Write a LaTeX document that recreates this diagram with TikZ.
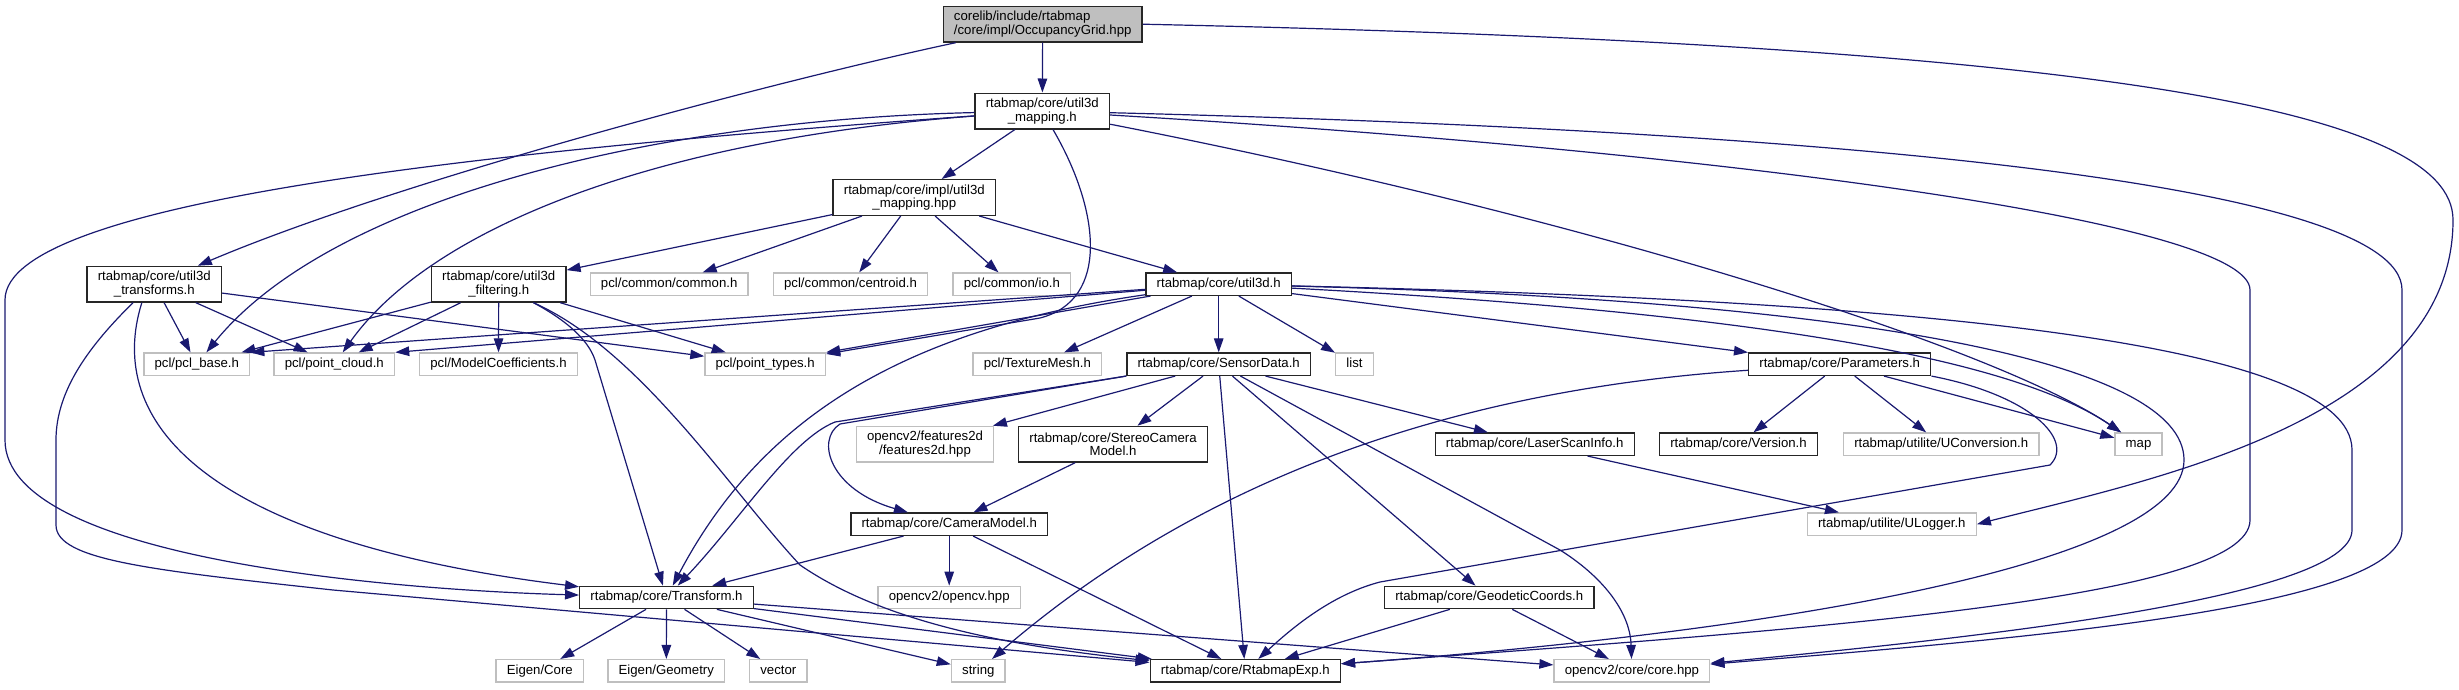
\documentclass[tikz,border=0pt]{standalone}
\usepackage{fontspec}
\setmainfont{Liberation Sans}
\usetikzlibrary{arrows.meta}
\definecolor{dxblue}{HTML}{191970}
\definecolor{dxgrey}{HTML}{BFBFBF}
\tikzset{
  every picture/.style={font=\fontsize{13.2}{13.4}\selectfont},
  file/.style={draw=#1, fill=white, line width=1.4pt, inner xsep=10.7pt, inner ysep=3pt, minimum height=22.3pt, text height=9.6pt, text depth=2.8pt, align=center},
  file/.default=black!85,
  ext/.style={file=dxgrey},
  root/.style={file, fill=dxgrey, align=left},
  tall/.style={minimum height=35.6pt, text height=, text depth=},
  inc/.style={-{Triangle[length=14pt, width=9.5pt]}, draw=dxblue, line width=1.2pt},
}

\begin{document}
\begin{tikzpicture}[x=1pt, y=-1pt]
  \useasboundingbox (0,0) rectangle (2459,689);
  \node[root, tall] (occ) at (1042.7,24.2) {corelib/include/rtabmap\\/core/impl/OccupancyGrid.hpp};
  \node[file, tall] (map3d) at (1042.3,111) {rtabmap/core/util3d\\\_mapping.h};
  \node[file, tall] (map3dhpp) at (914.3,197.5) {rtabmap/core/impl/util3d\\\_mapping.hpp};
  \node[file, tall] (trans) at (154.3,284.2) {rtabmap/core/util3d\\\_transforms.h};
  \node[file, tall] (filt) at (498.7,284.2) {rtabmap/core/util3d\\\_filtering.h};
  \node[ext] (common) at (669.2,284.2) {pcl/common/common.h};
  \node[ext] (centroid) at (850.5,284.2) {pcl/common/centroid.h};
  \node[ext] (io) at (1011.8,284.2) {pcl/common/io.h};
  \node[file] (u3d) at (1218.7,284.2) {rtabmap/core/util3d.h};
  \node[ext] (pclbase) at (196.8,364.2) {pcl/pcl\_base.h};
  \node[ext] (pcloud) at (334.3,364.2) {pcl/point\_cloud.h};
  \node[ext] (modelcoef) at (498.5,364.2) {pcl/ModelCoefficients.h};
  \node[ext] (ptypes) at (765.2,364.2) {pcl/point\_types.h};
  \node[ext] (texmesh) at (1037.3,364.2) {pcl/TextureMesh.h};
  \node[file] (sensor) at (1218.7,364.2) {rtabmap/core/SensorData.h};
  \node[ext] (list) at (1354.5,364.2) {list};
  \node[file] (params) at (1839.7,364.2) {rtabmap/core/Parameters.h};
  \node[ext, tall] (feat2d) at (925,444.2) {opencv2/features2d\\/features2d.hpp};
  \node[file, tall] (stereo) at (1113,444.2) {rtabmap/core/StereoCamera\\Model.h};
  \node[file] (laser) at (1534.7,444.2) {rtabmap/core/LaserScanInfo.h};
  \node[file] (version) at (1738.5,444.2) {rtabmap/core/Version.h};
  \node[ext] (uconv) at (1941.2,444.2) {rtabmap/utilite/UConversion.h};
  \node[ext] (map) at (2138.5,444.2) {map};
  \node[file] (cammodel) at (949.2,524.2) {rtabmap/core/CameraModel.h};
  \node[ext] (ulogger) at (1891.8,524.2) {rtabmap/utilite/ULogger.h};
  \node[file] (transform) at (666.5,597.5) {rtabmap/core/Transform.h};
  \node[ext] (ocvhpp) at (949.2,597.5) {opencv2/opencv.hpp};
  \node[file] (geo) at (1489.2,597.5) {rtabmap/core/GeodeticCoords.h};
  \node[ext] (eigcore) at (539.8,670.8) {Eigen/Core};
  \node[ext] (eiggeo) at (666.3,670.8) {Eigen/Geometry};
  \node[ext] (vector) at (778.3,670.8) {vector};
  \node[ext] (string) at (978.3,670.8) {string};
  \node[file] (rtexp) at (1245.3,670.8) {rtabmap/core/RtabmapExp.h};
  \node[ext] (corehpp) at (1631.9,670.8) {opencv2/core/core.hpp};
  \foreach \a/\b in {occ/map3d, map3d/map3dhpp, map3dhpp/filt, map3dhpp/common, map3dhpp/centroid, map3dhpp/io, map3dhpp/u3d,
    trans/pclbase, trans/pcloud, trans/ptypes, filt/pclbase, filt/pcloud, filt/modelcoef, filt/ptypes,
    u3d/texmesh, u3d/sensor, u3d/list, u3d/params, sensor/feat2d, sensor/stereo, sensor/rtexp, sensor/geo, sensor/laser,
    stereo/cammodel, laser/ulogger, params/version, params/uconv, params/map, geo/rtexp, geo/corehpp,
    cammodel/transform, cammodel/ocvhpp, cammodel/rtexp, transform/eigcore, transform/eiggeo, transform/vector,
    transform/string, transform/rtexp, transform/corehpp}
    \draw[inc] (\a) -- (\b);
  \draw[inc] (occ) .. controls (780,80) and (400,180) .. (trans);
  \draw[inc] (occ.east) .. controls (2100,45) and (2453,110) .. (2453,220) .. controls (2453,420) and (2150,480) .. (ulogger.east);
  \draw[inc] (map3d) .. controls (650,120) and (330,200) .. (pclbase);
  \draw[inc] (map3d) .. controls (650,140) and (430,230) .. (pcloud);
  \draw[inc] (map3d) .. controls (500,150) and (5,200) .. (5,300) -- (5,440) .. controls (5,560) and (400,590) .. (transform);
  \draw[inc] (map3d.-60) .. controls (1100,210) and (1110,300) .. (1040,318) -- (ptypes);
  \draw[inc] (map3d) .. controls (1600,220) and (2000,350) .. (map);
  \draw[inc] (map3d) .. controls (1700,150) and (2250,220) .. (2250,290) -- (2250,520) .. controls (2250,600) and (1800,630) .. (rtexp);
  \draw[inc] (map3d) .. controls (1800,130) and (2402,180) .. (2402,290) -- (2402,530) .. controls (2402,610) and (2000,640) .. (corehpp);
  \draw[inc] (trans.-124) .. controls (105,420) and (200,540) .. (transform);
  \draw[inc] (trans.-139) .. controls (90,345) and (56,390) .. (56,440) -- (56,525) .. controls (56,560) and (150,570) .. (333,590) -- (rtexp);
  \draw[inc] (filt.-28) .. controls (575,325) and (590,345) .. (595,360) -- (transform);
  \draw[inc] (filt.-28) .. controls (640,350) and (730,490) .. (800,565) .. controls (880,620) and (1000,645) .. (rtexp);
  \foreach \b in {pclbase, pcloud, ptypes} \draw[inc] (u3d) -- (\b.north east);
  \draw[inc] (u3d) .. controls (900,330) and (760,420) .. (transform);
  \draw[inc] (u3d) .. controls (1700,310) and (2000,350) .. (map);
  \draw[inc] (u3d) .. controls (1850,300) and (2184,360) .. (2184,460) .. controls (2184,560) and (1800,630) .. (rtexp);
  \draw[inc] (u3d) .. controls (1900,300) and (2352,340) .. (2352,450) -- (2352,530) .. controls (2352,600) and (1950,640) .. (corehpp);
  \draw[inc] (sensor.south west) -- (840,424) .. controls (815,440) and (830,490) .. (cammodel);
  \draw[inc] (sensor.south west) -- (835,422) .. controls (790,440) and (740,520) .. (transform);
  \draw[inc] (sensor) -- (1560,550) .. controls (1600,575) and (1630,610) .. (corehpp);
  \draw[inc] (params.south east) .. controls (2030,395) and (2075,440) .. (2050,465) -- (1380,582) .. controls (1330,595) and (1290,630) .. (rtexp);
  \draw[inc] (params) .. controls (1450,390) and (1200,480) .. (string);
\end{tikzpicture}
\end{document}
